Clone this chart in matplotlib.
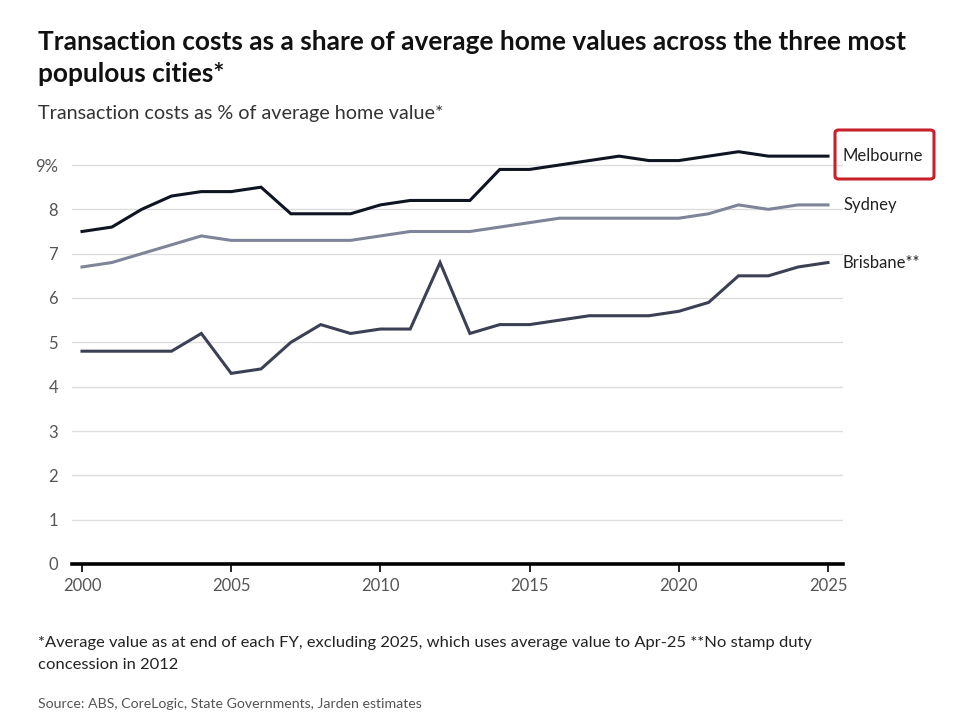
import matplotlib
matplotlib.use("Agg")
import matplotlib.pyplot as plt
from matplotlib.patches import FancyBboxPatch

years = list(range(2000, 2026))
melbourne = [7.5, 7.6, 8.0, 8.3, 8.4, 8.4, 8.5, 7.9, 7.9, 7.9, 8.1, 8.2, 8.2, 8.2,
             8.9, 8.9, 9.0, 9.1, 9.2, 9.1, 9.1, 9.2, 9.3, 9.2, 9.2, 9.2]
sydney = [6.7, 6.8, 7.0, 7.2, 7.4, 7.3, 7.3, 7.3, 7.3, 7.3, 7.4, 7.5, 7.5, 7.5,
          7.6, 7.7, 7.8, 7.8, 7.8, 7.8, 7.8, 7.9, 8.1, 8.0, 8.1, 8.1]
brisbane = [4.8, 4.8, 4.8, 4.8, 5.2, 4.3, 4.4, 5.0, 5.4, 5.2, 5.3, 5.3, 6.8, 5.2,
            5.4, 5.4, 5.5, 5.6, 5.6, 5.6, 5.7, 5.9, 6.5, 6.5, 6.7, 6.8]
series_names = ["Melbourne", "Sydney", "Brisbane**"]
y_ticks = [0, 1, 2, 3, 4, 5, 6, 7, 8, 9]
y_tick_labels = ["0", "1", "2", "3", "4", "5", "6", "7", "8", "9%"]
x_ticks = [2000, 2005, 2010, 2015, 2020, 2025]

plt.rcParams['font.family'] = ['Lato', 'DejaVu Sans']

W, H = 976, 715
fig = plt.figure(figsize=(W / 100, H / 100), dpi=100)
fig.patch.set_facecolor("white")

ax_l, ax_r, ax_b, ax_t = 72, 843, 564, 138.4
ax = fig.add_axes([ax_l / W, 1 - ax_b / H, (ax_r - ax_l) / W, (ax_b - ax_t) / H])

colors = ["#0e1422", "#7f8498", "#3c4054"]
for vals, c in zip([melbourne, sydney, brisbane], colors):
    ax.plot(years, vals, color=c, lw=2.2, solid_joinstyle="miter", zorder=3)

ax.set_xlim(1999.665, 2025.503)
ax.set_ylim(0, 9.6)
ax.set_yticks(y_ticks)
ax.set_yticklabels(y_tick_labels)
ax.set_xticks(x_ticks)
ax.set_xticklabels([str(x) for x in x_ticks])

for s in ["top", "right", "left"]:
    ax.spines[s].set_visible(False)
ax.spines["bottom"].set_linewidth(2.6)
ax.spines["bottom"].set_color("black")
ax.spines["bottom"].set_zorder(4)

ax.grid(axis="y", color="#dddddd", lw=1.0, zorder=1)
ax.tick_params(axis="y", length=0, pad=10, labelsize=12, labelcolor="#555555")
ax.tick_params(axis="x", length=6, width=1.2, color="black", pad=4,
               labelsize=12, labelcolor="#555555")

# End labels
label_y_px = [156, 205, 263]
for name, ypx in zip(series_names, label_y_px):
    fig.text(843 / W, 1 - ypx / H, name, fontsize=12, color="#222222",
             va="center", ha="left")

box = FancyBboxPatch((835 / W, 1 - 179 / H), (934 - 835) / W, (179 - 130) / H,
                     boxstyle="round,pad=0,rounding_size=0.004",
                     transform=fig.transFigure, fill=False,
                     edgecolor="#c8202a", lw=2.2)
fig.patches.append(box)

# Titles
fig.text(38 / W, 1 - 42 / H, "Transaction costs as a share of average home values across the three most",
         fontsize=18.9, fontweight="bold", color="#111111", va="center", ha="left")
fig.text(38 / W, 1 - 74 / H, "populous cities*",
         fontsize=18.9, fontweight="bold", color="#111111", va="center", ha="left")
fig.text(38 / W, 1 - 113 / H, "Transaction costs as % of average home value*",
         fontsize=14.2, color="#333333", va="center", ha="left")

fig.text(38 / W, 1 - 643 / H,
         "*Average value as at end of each FY, excluding 2025, which uses average value to Apr-25 **No stamp duty",
         fontsize=11.85, color="#222222", va="center", ha="left")
fig.text(38 / W, 1 - 665 / H, "concession in 2012",
         fontsize=11.85, color="#222222", va="center", ha="left")
fig.text(38 / W, 1 - 704 / H, "Source: ABS, CoreLogic, State Governments, Jarden estimates",
         fontsize=10.2, color="#555555", va="center", ha="left")

fig.savefig("out.png", dpi=100, facecolor="white")
